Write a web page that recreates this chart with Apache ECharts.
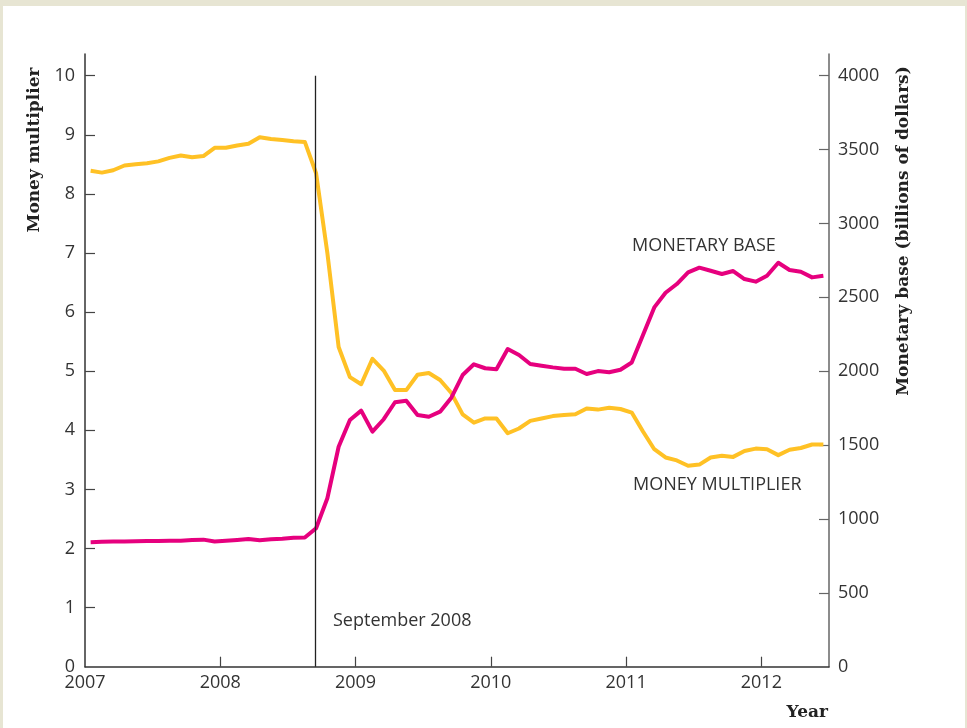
<!DOCTYPE html>
<html>
<head>
<meta charset="utf-8">
<script src="https://cdn.jsdelivr.net/npm/echarts@6/dist/echarts.min.js"></script>
<style>
  html, body { margin: 0; padding: 0; background: #E7E5D3; width: 967px; height: 728px; overflow: hidden; }
  #panel { position: absolute; left: 3px; top: 6px; width: 962px; height: 722px; background: #ffffff; }
  #chart { position: absolute; left: 0; top: 0; width: 967px; height: 728px; }
</style>
</head>
<body>
<div id="panel"></div>
<div id="chart"></div>
<script>
// ---- Data (monthly, Jan 2007 .. Jun 2012) ----
const startYear = 2007;
const monthCount = 66;
const months = [];
for (let i = 0; i < monthCount; i++) {
  const y = startYear + Math.floor(i / 12);
  const m = (i % 12) + 1;
  months.push(y + '-' + (m < 10 ? '0' + m : m));
}

// Money multiplier (left axis)
const moneyMultiplier = [
  8.39, 8.36, 8.40, 8.48, 8.50, 8.52, 8.55, 8.61, 8.65, 8.62, 8.64, 8.78,
  8.78, 8.82, 8.85, 8.96, 8.93, 8.91, 8.89, 8.88, 8.35, 7.00, 5.41, 4.90,
  4.78, 5.21, 5.01, 4.68, 4.68, 4.94, 4.97, 4.85, 4.63, 4.27, 4.13, 4.20,
  4.20, 3.95, 4.03, 4.16, 4.20, 4.24, 4.26, 4.27, 4.37, 4.35, 4.38, 4.36,
  4.30, 3.98, 3.68, 3.54, 3.49, 3.40, 3.42, 3.54, 3.57, 3.55, 3.65, 3.69,
  3.68, 3.58, 3.67, 3.70, 3.76, 3.76
];

// Monetary base, billions of dollars (right axis)
const monetaryBase = [
  843, 846, 847, 848, 849, 850, 851, 853, 852, 857, 860, 847,
  852, 858, 865, 856, 862, 866, 872, 874, 937, 1140, 1489, 1670,
  1733, 1591, 1675, 1790, 1800, 1704, 1692, 1726, 1821, 1974, 2047, 2020,
  2013, 2150, 2110, 2049, 2037, 2026, 2017, 2017, 1981, 2001, 1993, 2010,
  2059, 2245, 2432, 2531, 2590, 2669, 2701, 2680, 2658, 2678, 2624, 2606,
  2646, 2734, 2685, 2673, 2635, 2646
];

const yearTicks = [2007, 2008, 2009, 2010, 2011, 2012];
const multiplierTicks = [0, 1, 2, 3, 4, 5, 6, 7, 8, 9, 10];
const baseTicks = [0, 500, 1000, 1500, 2000, 2500, 3000, 3500, 4000];
const eventDate = 2008.70; // September 2008

// ---- Build ----
function toYearFrac(label) {
  const parts = label.split('-');
  return +parts[0] + (+parts[1] - 0.5) / 12;
}
const multData = months.map((m, i) => [toYearFrac(m), moneyMultiplier[i]]);
const baseData = months.map((m, i) => [toYearFrac(m), monetaryBase[i]]);

const sans = '"Open Sans", "Noto Sans", sans-serif';
const serif = '"DejaVu Serif", "Liberation Serif", serif';
const textColor = '#333333';
const plain = v => String(Math.round(v));

const chart = echarts.init(document.getElementById('chart'), null, { renderer: 'canvas' });
chart.setOption({
  backgroundColor: 'transparent',
  animation: false,
  grid: { left: 85, right: 138, top: 54, bottom: 61.3, containLabel: false },
  xAxis: {
    type: 'value', min: 2007, max: 2012.5,
    axisLine: { show: true, lineStyle: { color: '#333', width: 1.5 } },
    axisTick: { show: true, inside: true, length: 10, customValues: yearTicks.slice(1), lineStyle: { color: '#444', width: 1.2 } },
    axisLabel: { customValues: yearTicks, formatter: plain, margin: 7, fontSize: 18, color: textColor, fontFamily: sans },
    splitLine: { show: false }
  },
  yAxis: [
    {
      type: 'value', position: 'left', min: 0, max: 10.367,
      axisLine: { show: true, lineStyle: { color: '#333', width: 1.5 } },
      axisTick: { show: true, inside: true, length: 10, customValues: multiplierTicks.slice(1), lineStyle: { color: '#444', width: 1.2 } },
      axisLabel: { customValues: multiplierTicks, formatter: plain, margin: 10, fontSize: 18, color: textColor, fontFamily: sans },
      splitLine: { show: false }
    },
    {
      type: 'value', position: 'right', min: 0, max: 4147,
      axisLine: { show: true, lineStyle: { color: '#666', width: 1.5 } },
      axisTick: { show: true, inside: true, length: 10, customValues: baseTicks.slice(1), lineStyle: { color: '#666', width: 1.2 } },
      axisLabel: { customValues: baseTicks, formatter: plain, margin: 9, fontSize: 18, color: textColor, fontFamily: sans },
      splitLine: { show: false }
    }
  ],
  series: [
    {
      name: 'Money multiplier', type: 'line', yAxisIndex: 0, data: multData,
      showSymbol: false, symbol: 'none',
      lineStyle: { color: '#FFC125', width: 4, join: 'round' },
      itemStyle: { color: '#FFC125' },
      z: 2,
      markLine: {
        silent: true, symbol: 'none', animation: false,
        label: { show: false },
        lineStyle: { color: '#222', width: 1.3, type: 'solid' },
        data: [[{ coord: [eventDate, 0] }, { coord: [eventDate, 10] }]]
      }
    },
    {
      name: 'Monetary base', type: 'line', yAxisIndex: 1, data: baseData,
      showSymbol: false, symbol: 'none',
      lineStyle: { color: '#E6007E', width: 4, join: 'round' },
      itemStyle: { color: '#E6007E' },
      z: 3
    }
  ],
  graphic: [
    { type: 'text', x: 333, y: 621, style: { text: 'September 2008', font: '18px ' + sans, fill: textColor, align: 'left', verticalAlign: 'middle' } },
    { type: 'text', x: 632, y: 246, style: { text: 'MONETARY BASE', font: '18px ' + sans, fill: textColor, align: 'left', verticalAlign: 'middle' } },
    { type: 'text', x: 633, y: 485, style: { text: 'MONEY MULTIPLIER', font: '18px ' + sans, fill: textColor, align: 'left', verticalAlign: 'middle' } },
    { type: 'text', x: 828, y: 713, style: { text: 'Year', font: 'bold 17px ' + serif, fill: '#222', align: 'right', verticalAlign: 'middle' } },
    { type: 'text', x: 35, y: 150, rotation: Math.PI / 2, style: { text: 'Money multiplier', font: 'bold 17px ' + serif, fill: '#222', align: 'center', verticalAlign: 'middle' } },
    { type: 'text', x: 904, y: 231, rotation: Math.PI / 2, style: { text: 'Monetary base (billions of dollars)', font: 'bold 17px ' + serif, fill: '#222', align: 'center', verticalAlign: 'middle' } }
  ]
});
</script>
</body>
</html>
